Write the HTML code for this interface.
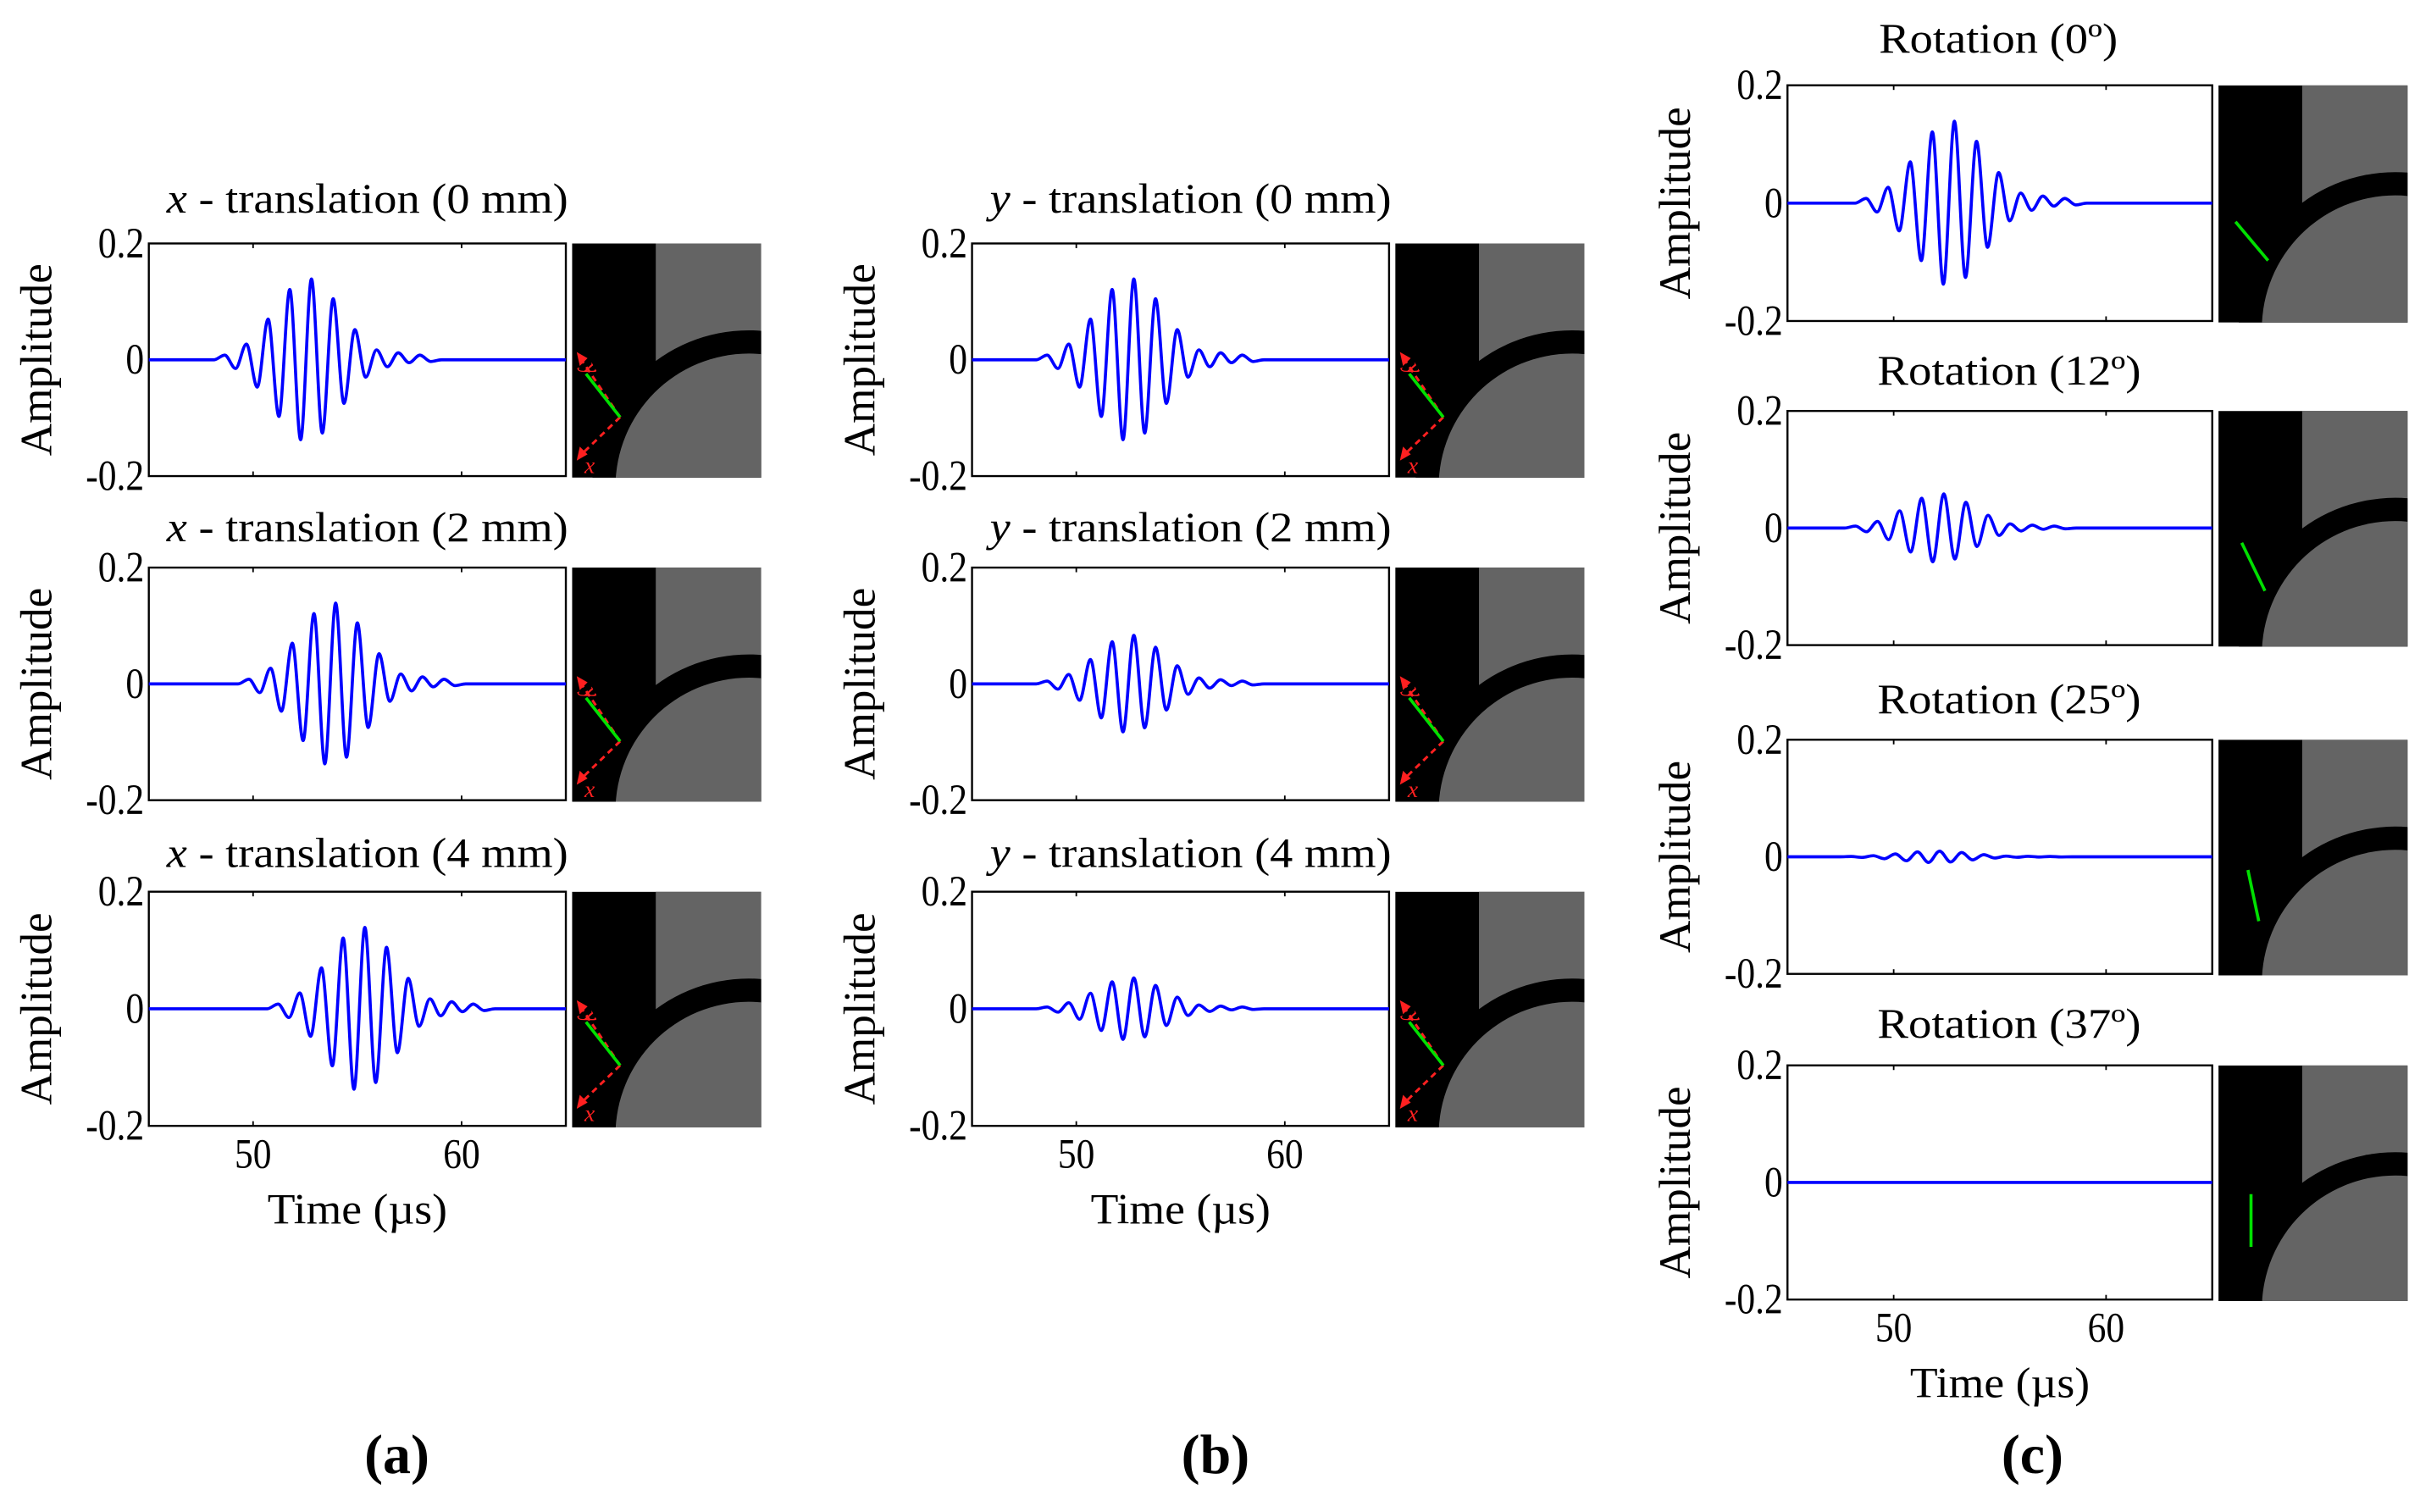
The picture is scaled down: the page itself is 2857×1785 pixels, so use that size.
<!DOCTYPE html>
<html><head><meta charset="utf-8"><style>
html,body{margin:0;padding:0;background:#fff}
svg{display:block}
text{font-family:"Liberation Serif",serif;fill:#000}
</style></head><body>
<svg id="fig" xmlns="http://www.w3.org/2000/svg" width="2857" height="1785" viewBox="0 0 1561 975" preserveAspectRatio="none">
<text x="256" y="955" font-size="36" font-weight="bold" text-anchor="middle" transform="translate(0,-5)">(a)</text>
<text x="784" y="955" font-size="36" font-weight="bold" text-anchor="middle" transform="translate(0,-5)">(b)</text>
<text x="1311" y="955" font-size="36" font-weight="bold" text-anchor="middle" transform="translate(0,-5)">(c)</text>
</svg>
<script>
// waveform data: alternating extrema amplitudes (base tone burst), per-panel first-extremum time, gain
const baseAmps = [0.008,-0.015,0.027,-0.047,0.07,-0.0975,0.121,-0.1375,0.139,-0.126,0.105,-0.075,0.052,-0.03,0.017,-0.012,0.012,-0.005,0.008,-0.003];
const halfPeriod = 0.52;
const panelTitles = ["x - translation (0 mm)","x - translation (2 mm)","x - translation (4 mm)",
 "y - translation (0 mm)","y - translation (2 mm)","y - translation (4 mm)",
 "Rotation (0°)","Rotation (12°)","Rotation (25°)","Rotation (37°)"];
const panelStart = [48.64,49.8,51.2, 48.6,48.6,48.6, 48.7,48.2,48.0,48.0];
const panelGain = [1.0,1.0,1.0, 1.0,0.6,0.38, 1.0,0.42,0.07,0.0];
const yTicks = [0.2,0,-0.2];
const yTickLabels = ["0.2","0","-0.2"];
const xTicks = [50,60];
const xTickLabels = ["50","60"];
const xMin = 45, xMax = 65, yMin = -0.2, yMax = 0.2;

const layouts = [
 {x:96,y:157,w:269,h:150,ix:369,tx:237,ty:137,kind:'xt'},
 {x:96,y:366,w:269,h:150,ix:369,tx:237,ty:349,kind:'xt'},
 {x:96,y:575,w:269,h:151,ix:369,tx:237,ty:559,kind:'xt',bottom:true},
 {x:627,y:157,w:269,h:150,ix:900,tx:768,ty:137,kind:'yt'},
 {x:627,y:366,w:269,h:150,ix:900,tx:768,ty:349,kind:'yt'},
 {x:627,y:575,w:269,h:151,ix:900,tx:768,ty:559,kind:'yt',bottom:true},
 {x:1153,y:55,w:274,h:152,ix:1431,tx:1289,ty:34,kind:'rot',g:[11,88,32,113]},
 {x:1153,y:265,w:274,h:151,ix:1431,tx:1296,ty:248,kind:'rot',g:[15,85,30,116]},
 {x:1153,y:477,w:274,h:151,ix:1431,tx:1296,ty:460,kind:'rot',g:[19,84,26,117]},
 {x:1153,y:687,w:274,h:151,ix:1431,tx:1296,ty:669,kind:'rot',g:[21,83,21,117],bottom:true}
];
const NS="http://www.w3.org/2000/svg";
const svg=document.getElementById('fig');
function mk(tag,attrs,parent){const e=document.createElementNS(NS,tag);for(const k in attrs)e.setAttribute(k,attrs[k]);(parent||svg).appendChild(e);return e;}

layouts.forEach((L,i)=>{
 const g=mk('g',{});
 
 
 const sx=v=>L.x+(v-xMin)/(xMax-xMin)*L.w;
 const sy=v=>L.y+(yMax-v)/(yMax-yMin)*L.h;
 const title=panelTitles[i];
 const tlen = L.kind==='rot' ? (title.length>13?170:154) : 259;
 const t=mk('text',{x:L.tx,y:L.ty,'font-size':27,'text-anchor':'middle',textLength:tlen,lengthAdjust:'spacingAndGlyphs'},g);
 
 
 if(L.kind!=='rot'){
  const a=mk('tspan',{'font-style':'italic'},t);a.textContent=title[0];
  const b=mk('tspan',{},t);b.textContent=title.slice(1);
 } else t.textContent=title.replace('°','º');
 const box=mk('rect',{x:L.x,y:L.y,width:L.w,height:L.h,fill:'#fff',stroke:'#000','stroke-width':1.3},g);
 
 
 xTicks.forEach((v,k)=>{
  mk('line',{x1:sx(v),x2:sx(v),y1:L.y,y2:L.y+3,stroke:'#000','stroke-width':1},g);
  mk('line',{x1:sx(v),x2:sx(v),y1:L.y+L.h,y2:L.y+L.h-3,stroke:'#000','stroke-width':1},g);
  if(L.bottom){
   const tl=mk('text',{x:0,y:0,'font-size':27,'text-anchor':'middle',transform:`translate(${sx(v)},${L.y+L.h+27}) scale(0.88,1)`},g);
   
   
   tl.textContent=xTickLabels[k];
  }
 });
 yTicks.forEach((v,k)=>{
  const tl=mk('text',{x:0,y:0,'font-size':28,'text-anchor':'end',transform:`translate(${L.x-3},${sy(v)+9}) scale(0.85,1)`},g);
  
  
  tl.textContent=yTickLabels[k];
 });
 const yl=mk('text',{x:0,y:0,'font-size':29,'text-anchor':'middle',textLength:124,lengthAdjust:'spacingAndGlyphs',transform:`translate(${L.x-63},${L.y+L.h/2}) rotate(-90)`},g);
 
 
 yl.textContent='Amplitude';
 if(L.bottom){
  const xl=mk('text',{x:L.x+L.w/2,y:L.y+L.h+63,'font-size':28,'text-anchor':'middle',textLength:116,lengthAdjust:'spacingAndGlyphs'},g);
  
  
  xl.textContent='Time (µs)';
 }
 const gain=panelGain[i], t0=panelStart[i];
 let d=`M${sx(xMin)},${sy(0)} L${sx(t0-halfPeriod)},${sy(0)}`;
 let px=sx(t0-halfPeriod), py=sy(0);
 baseAmps.forEach((a,k)=>{
  const nx=sx(t0+k*halfPeriod), ny=sy(a*gain);
  const dx=(nx-px)/3;
  d+=` C${px+dx},${py} ${nx-dx},${ny} ${nx},${ny}`;
  px=nx;py=ny;
 });
 const nx=px+(sx(halfPeriod)-sx(0));
 d+=` C${px+(nx-px)/3},${py} ${nx-(nx-px)/3},${sy(0)} ${nx},${sy(0)} L${sx(xMax)},${sy(0)}`;
 const w=mk('path',{d:d,fill:'none',stroke:'#0000ff','stroke-width':2,'stroke-linejoin':'round'},g);
 
 
 const ig=mk('g',{},g);
 
 
 const cid='clip'+i;
 const cp=mk('clipPath',{id:cid},ig);
 mk('rect',{x:L.ix,y:L.y,width:122,height:L.h+1},cp);
 const ic=mk('g',{'clip-path':`url(#${cid})`},ig);
 mk('rect',{x:L.ix,y:L.y,width:122,height:L.h+1,fill:'#000'},ic);
 mk('rect',{x:L.ix+54,y:L.y,width:68,height:L.h+1,fill:'#646464'},ic);
 mk('circle',{cx:L.ix+114,cy:L.y+157,r:101,fill:'#000'},ic);
 mk('circle',{cx:L.ix+114,cy:L.y+157,r:86,fill:'#646464'},ic);
 if(L.kind==='rot'){
  const gl=mk('line',{x1:L.ix+L.g[0],y1:L.y+L.g[1],x2:L.ix+L.g[2],y2:L.y+L.g[3],stroke:'#00e000','stroke-width':2},ic);
  
  
 } else {
  const ox=L.ix, oy=L.y;
  mk('line',{x1:ox+31,y1:oy+112,x2:ox+4,y2:oy+72,stroke:'#ff2020','stroke-width':1.6,'stroke-dasharray':'4,3'},ic);
  mk('line',{x1:ox+31,y1:oy+112,x2:ox+4,y2:oy+138,stroke:'#ff2020','stroke-width':1.6,'stroke-dasharray':'4,3'},ic);
  mk('polygon',{points:`${ox+3},${oy+70} ${ox+10},${oy+74} ${ox+5},${oy+79}`,fill:'#ff2020'},ic);
  mk('polygon',{points:`${ox+3},${oy+140} ${ox+5},${oy+131} ${ox+10},${oy+136}`,fill:'#ff2020'},ic);
  const ty=mk('text',{x:ox+10,y:oy+82,'font-size':15,'font-style':'italic',style:'fill:#ff2020',transform:`rotate(60 ${ox+10} ${oy+78})`},ic);
  ty.textContent='y';
  const tx=mk('text',{x:ox+8,y:oy+148,'font-size':15,'font-style':'italic',style:'fill:#ff2020'},ic);
  tx.textContent='x';
  const gl=mk('line',{x1:ox+9,y1:oy+84,x2:ox+31,y2:oy+112,stroke:'#00e000','stroke-width':2},ic);
  
  
 }
});
</script>
</body></html>
